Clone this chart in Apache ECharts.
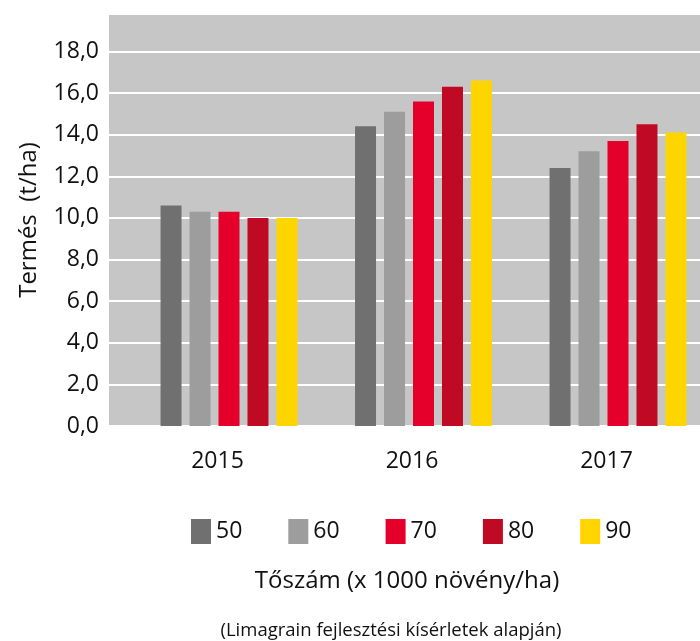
<!DOCTYPE html>
<html lang="hu">
<head>
    <meta charset="UTF-8">
    <title>Termés tőszám szerint</title>
    <script src="https://cdn.jsdelivr.net/npm/echarts@6/dist/echarts.min.js"></script>
    <style>
        html, body { margin: 0; padding: 0; background: #fff; }
        #chart { width: 700px; height: 641px; }
    </style>
</head>
<body>
    <div id="chart"></div>
    <script>
        // years on the x axis
        var years = ['2015', '2016', '2017'];
        // plant density groups (x 1000 plants/ha)
        var densities = ['50', '60', '70', '80', '90'];
        // yield t/ha, one array per density, by year
        var y50 = [10.6, 14.4, 12.4];
        var y60 = [10.3, 15.1, 13.2];
        var y70 = [10.3, 15.6, 13.7];
        var y80 = [10.0, 16.3, 14.5];
        var y90 = [10.0, 16.6, 14.1];
        var colors = ['#707070', '#9d9d9d', '#e4002b', '#c00a24', '#ffd500'];

        var font = "'Open Sans', 'Noto Sans', sans-serif";
        var values = [y50, y60, y70, y80, y90];

        var chart = echarts.init(document.getElementById('chart'));

        var series = densities.map(function (d, i) {
            return {
                name: d,
                type: 'bar',
                xAxisIndex: 1,
                yAxisIndex: 1,
                data: values[i],
                barWidth: 21,
                barGap: '38%',
                clip: false,
                itemStyle: { color: colors[i] },
                emphasis: { disabled: true }
            };
        });

        var option = {
            animation: false,
            textStyle: { fontFamily: font },
            color: colors,
            title: [{
                text: 'Tőszám (x 1000 növény/ha)',
                left: 402, top: 564, textAlign: 'center',
                textStyle: { fontFamily: font, fontSize: 24, fontWeight: 'normal', color: '#111' }
            }, {
                text: '(Limagrain fejlesztési kísérletek alapján)',
                left: 386, top: 616, textAlign: 'center',
                textStyle: { fontFamily: font, fontSize: 18.5, fontWeight: 'normal', color: '#111' }
            }],
            legend: {
                data: densities,
                left: 186, top: 514,
                itemWidth: 20, itemHeight: 25,
                itemGap: 46,
                icon: 'rect',
                textStyle: { fontFamily: font, fontSize: 23, color: '#111' }
            },
            grid: [{
                // background and gridlines
                left: 109, right: 0, top: 14, bottom: 215,
                show: true, backgroundColor: '#c6c6c6', borderWidth: 0
            }, {
                // bars: years sit on ticks, not in bands
                left: 229, width: 389, top: 14, bottom: 215
            }],
            xAxis: [{
                gridIndex: 0, type: 'category', data: years, show: false
            }, {
                gridIndex: 1, type: 'category', data: years, boundaryGap: false,
                axisLine: { show: false }, axisTick: { show: false },
                splitLine: { show: false },
                axisLabel: {
                    fontSize: 23, color: '#111', margin: 24, fontFamily: font,
                    padding: [0, 23, 0, 0]
                }
            }],
            yAxis: [{
                gridIndex: 0, type: 'value', min: 0, max: 19.8, interval: 2,
                name: 'Termés  (t/ha)', nameLocation: 'middle', nameGap: 68,
                nameTextStyle: { fontSize: 24, color: '#111', fontFamily: font },
                axisLine: { show: false }, axisTick: { show: false },
                axisLabel: {
                    fontSize: 23, color: '#111', margin: 10, fontFamily: font,
                    showMaxLabel: false,
                    formatter: function (v) { return v.toFixed(1).replace('.', ','); }
                },
                splitLine: { lineStyle: { color: '#ffffff', width: 2 } }
            }, {
                gridIndex: 1, type: 'value', min: 0, max: 19.8, interval: 2,
                show: false, splitLine: { show: false }
            }],
            series: series
        };

        chart.setOption(option);
    </script>
</body>
</html>
